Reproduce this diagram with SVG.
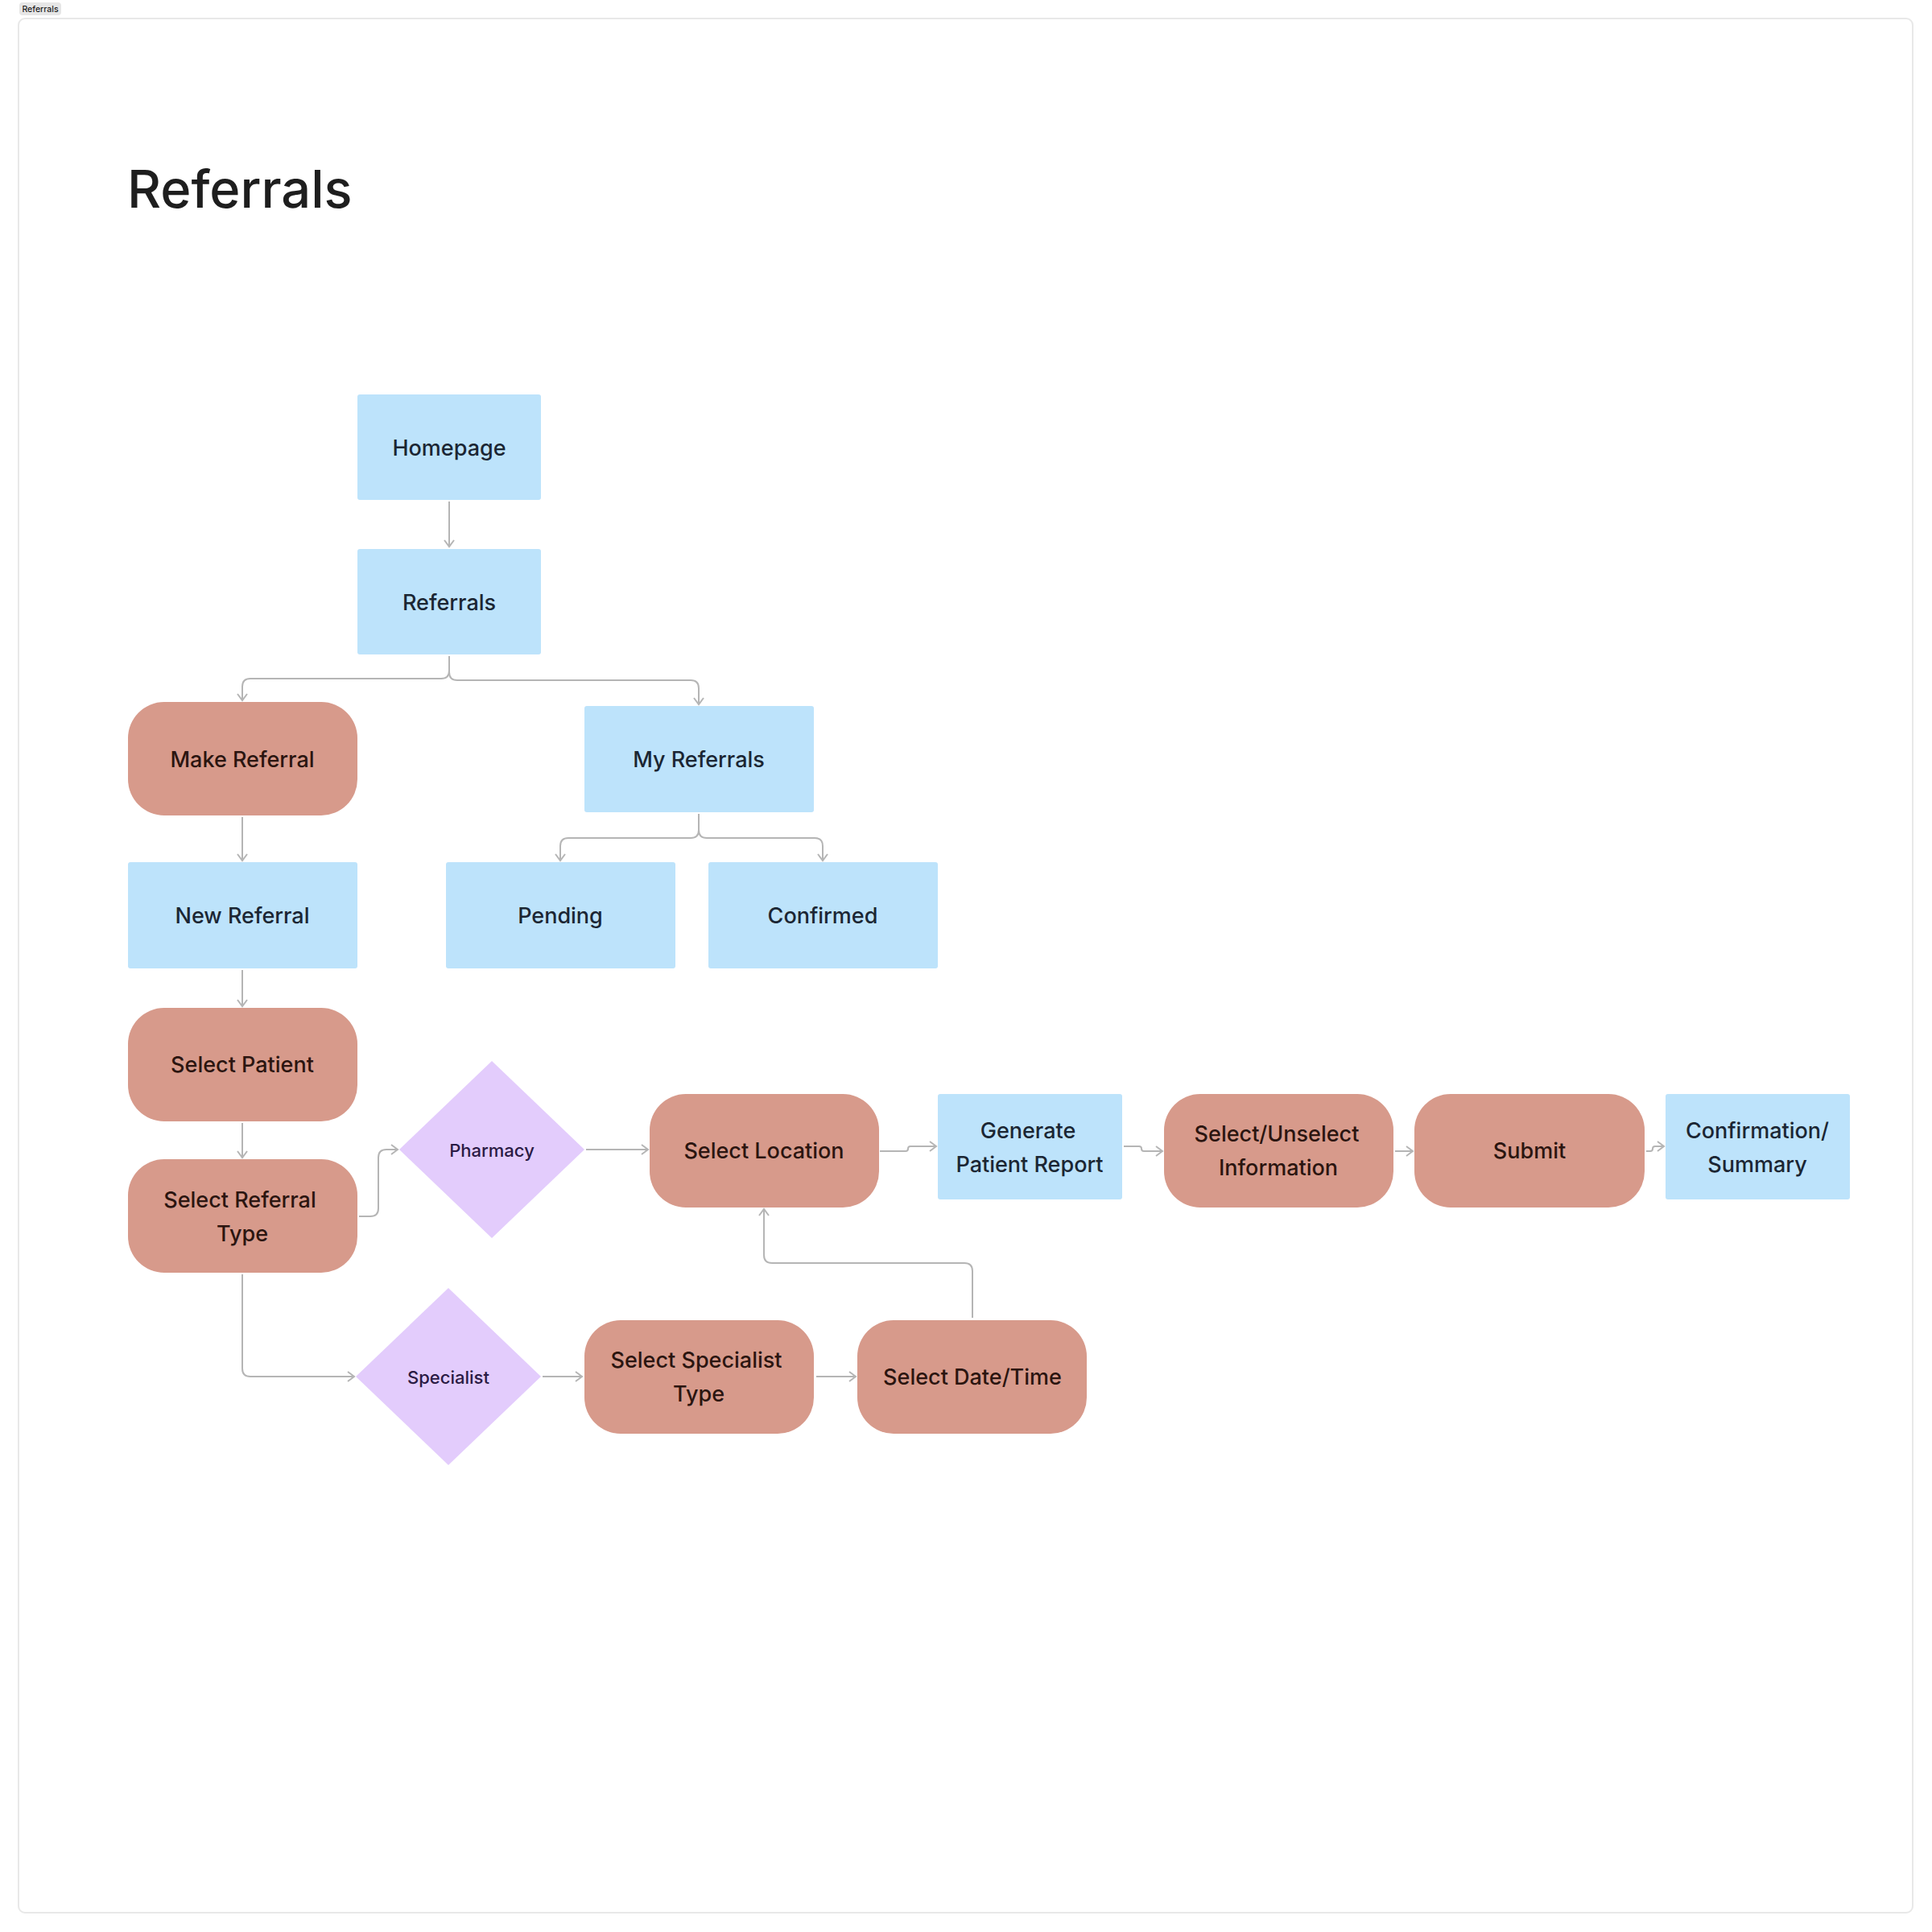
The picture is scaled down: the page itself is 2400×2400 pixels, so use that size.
<svg xmlns="http://www.w3.org/2000/svg" width="2400" height="2400" viewBox="0 0 2400 2400">
<style>
text{font-family:Inter,"Noto Sans","Liberation Sans",sans-serif;}
.blue{fill:#bde3fb;}
.sal{fill:#d79a8b;}
.dia{fill:#e3ccfc;}
.tb{fill:#1b2633;font-size:27px;font-weight:500;text-anchor:middle;dominant-baseline:central;}
.ts{fill:#2b1510;font-size:27px;font-weight:500;text-anchor:middle;dominant-baseline:central;}
.td{fill:#2a1a44;font-size:22px;font-weight:500;text-anchor:middle;dominant-baseline:central;}
.c{fill:none;stroke:#b5b5b5;stroke-width:2;marker-end:url(#arr);}
</style>
<defs>
<marker id="arr" viewBox="-10 -8 12 16" refX="0" refY="0" markerWidth="12" markerHeight="16" markerUnits="userSpaceOnUse" orient="auto">
<path d="M-8,-6 L0,0 L-8,6" fill="none" stroke="#b5b5b5" stroke-width="2"/>
</marker>
</defs>
<rect width="2400" height="2400" fill="#ffffff"/>
<rect x="24" y="3" width="52" height="16" rx="4" fill="#e6e6e6"/>
<text x="50" y="11.5" font-size="10.5" font-weight="500" text-anchor="middle" dominant-baseline="central" fill="#1e1e1e">Referrals</text>
<rect x="23" y="23" width="2353" height="2353" rx="8" fill="#ffffff" stroke="#e8e8e8" stroke-width="2"/>
<text x="158" y="258" font-size="65" font-weight="500" fill="#1e1e1e">Referrals</text>

<g id="connectors">
<path class="c" d="M558 623 V679"/>
<path class="c" d="M558 815 V833 Q558 843 548 843 H311 Q301 843 301 853 V870"/>
<path class="c" d="M558 815 V835 Q558 845 568 845 H858 Q868 845 868 855 V875"/>
<path class="c" d="M301 1015 V1069"/>
<path class="c" d="M868 1011 V1031 Q868 1041 858 1041 H706 Q696 1041 696 1051 V1069"/>
<path class="c" d="M868 1011 V1031 Q868 1041 878 1041 H1012 Q1022 1041 1022 1051 V1069"/>
<path class="c" d="M301 1205 V1250"/>
<path class="c" d="M301 1395 V1438"/>
<path class="c" d="M446 1511 H460 Q470 1511 470 1501 V1438 Q470 1428 480 1428 H494"/>
<path class="c" d="M728 1428 H805"/>
<path class="c" d="M301 1583 V1700 Q301 1710 311 1710 H440"/>
<path class="c" d="M674 1710 H723"/>
<path class="c" d="M1014 1710 H1063"/>
<path class="c" d="M1208 1637 V1579 Q1208 1569 1198 1569 H959 Q949 1569 949 1559 V1502"/>
<path class="c" d="M1093 1430 H1125 Q1128 1430 1128 1427 Q1128 1424 1131 1424 H1163"/>
<path class="c" d="M1396 1424 H1415 Q1418 1424 1418 1427 Q1418 1430 1421 1430 H1444"/>
<path class="c" d="M1733 1430 H1755"/>
<path class="c" d="M2045 1430 H2050 Q2053 1430 2053 1427 Q2053 1424 2056 1424 H2067"/>
</g>

<g id="homepage"><rect class="blue" x="444" y="490" width="228" height="131" rx="3"/><text class="tb" x="558" y="556">Homepage</text></g>
<g id="referrals"><rect class="blue" x="444" y="682" width="228" height="131" rx="3"/><text class="tb" x="558" y="748">Referrals</text></g>
<g id="make-referral"><rect class="sal" x="159" y="872" width="285" height="141" rx="45"/><text class="ts" x="301" y="943">Make Referral</text></g>
<g id="my-referrals"><rect class="blue" x="726" y="877" width="285" height="132" rx="3"/><text class="tb" x="868" y="943">My Referrals</text></g>
<g id="new-referral"><rect class="blue" x="159" y="1071" width="285" height="132" rx="3"/><text class="tb" x="301" y="1137">New Referral</text></g>
<g id="pending"><rect class="blue" x="554" y="1071" width="285" height="132" rx="3"/><text class="tb" x="696" y="1137">Pending</text></g>
<g id="confirmed"><rect class="blue" x="880" y="1071" width="285" height="132" rx="3"/><text class="tb" x="1022" y="1137">Confirmed</text></g>
<g id="select-patient"><rect class="sal" x="159" y="1252" width="285" height="141" rx="45"/><text class="ts" x="301" y="1322">Select Patient</text></g>
<g id="select-referral-type"><rect class="sal" x="159" y="1440" width="285" height="141" rx="45"/><text class="ts" x="298" y="1490">Select Referral</text><text class="ts" x="301" y="1532">Type</text></g>
<g id="pharmacy"><polygon class="dia" points="611,1318 726,1428 611,1538 496,1428"/><text class="td" x="611" y="1429">Pharmacy</text></g>
<g id="select-location"><rect class="sal" x="807" y="1359" width="285" height="141" rx="45"/><text class="ts" x="949" y="1429">Select Location</text></g>
<g id="generate-report"><rect class="blue" x="1165" y="1359" width="229" height="131" rx="3"/><text class="tb" x="1277" y="1404">Generate</text><text class="tb" x="1279" y="1446">Patient Report</text></g>
<g id="select-unselect"><rect class="sal" x="1446" y="1359" width="285" height="141" rx="45"/><text class="ts" x="1586" y="1408">Select/Unselect</text><text class="ts" x="1588" y="1450">Information</text></g>
<g id="submit"><rect class="sal" x="1757" y="1359" width="286" height="141" rx="45"/><text class="ts" x="1900" y="1429">Submit</text></g>
<g id="confirmation-summary"><rect class="blue" x="2069" y="1359" width="229" height="131" rx="3"/><text class="tb" x="2183" y="1404">Confirmation/</text><text class="tb" x="2183" y="1446">Summary</text></g>
<g id="specialist"><polygon class="dia" points="557,1600 672,1710 557,1820 442,1710"/><text class="td" x="557" y="1711">Specialist</text></g>
<g id="select-specialist-type"><rect class="sal" x="726" y="1640" width="285" height="141" rx="45"/><text class="ts" x="865" y="1689">Select Specialist</text><text class="ts" x="868" y="1731">Type</text></g>
<g id="select-date-time"><rect class="sal" x="1065" y="1640" width="285" height="141" rx="45"/><text class="ts" x="1208" y="1710">Select Date/Time</text></g>
</svg>
